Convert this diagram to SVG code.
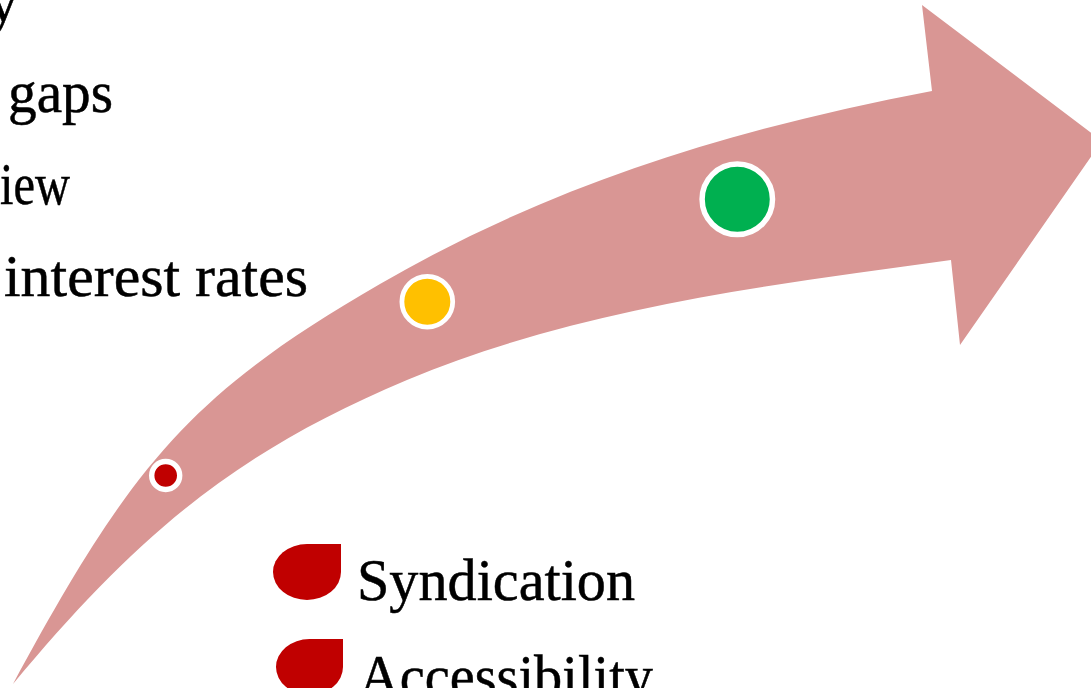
<svg xmlns="http://www.w3.org/2000/svg" width="1091" height="688" viewBox="0 0 1091 688">
  <style>
    .txt { font-family: "Liberation Serif", "Times New Roman", serif; font-size: 60px; fill: #000000; stroke: #000000; stroke-width: 0.5px; }
    .dot { stroke: #FFFFFF; }
    .leg { fill: #C00000; }
  </style>
  <rect x="0" y="0" width="1091" height="688" fill="#FFFFFF"/>
  <g id="arrow">
    <path fill="#D99694" d="M13,684 C132,464 190,394 380,284 C553,183.6 735.6,128.4 932,91 L922,5 L1102,141 L960,345 L951,260 C768,285 577.6,308.4 407,380 C231.8,453.5 134.6,538.1 13,684 Z"/>
  </g>
  <g id="milestone-red">
    <circle class="dot" cx="165.7" cy="475.5" r="14" fill="#C00000" stroke-width="5.4"/>
  </g>
  <g id="milestone-yellow">
    <circle class="dot" cx="427.3" cy="301.7" r="25.4" fill="#FFC000" stroke-width="4.8"/>
  </g>
  <g id="milestone-green">
    <circle class="dot" cx="737.3" cy="199.3" r="35.2" fill="#00B050" stroke-width="5.5"/>
  </g>
  <g id="bullets">
    <text class="txt" x="18" y="21" text-anchor="end">y</text>
    <text class="txt" x="8" y="112" textLength="105" lengthAdjust="spacingAndGlyphs">gaps</text>
    <text class="txt" x="0" y="204" textLength="70" lengthAdjust="spacingAndGlyphs">iew</text>
    <text class="txt" x="4" y="296" textLength="304" lengthAdjust="spacingAndGlyphs">interest rates</text>
  </g>
  <g id="legend-syndication">
    <path class="leg" d="M341,544 L341,572 A34,28 0 0 1 307,600 A34,28 0 0 1 273,572 A34,28 0 0 1 307,544 Z"/>
    <text class="txt" x="357" y="600" textLength="278" lengthAdjust="spacingAndGlyphs">Syndication</text>
  </g>
  <g id="legend-accessibility">
    <path class="leg" d="M343,639 L343,667 A33.5,28 0 0 1 309.5,695 A33.5,28 0 0 1 276,667 A33.5,28 0 0 1 309.5,639 Z"/>
    <text class="txt" x="359" y="696" textLength="294" lengthAdjust="spacingAndGlyphs">Accessibility</text>
  </g>
  <g id="connectors"></g>
</svg>
